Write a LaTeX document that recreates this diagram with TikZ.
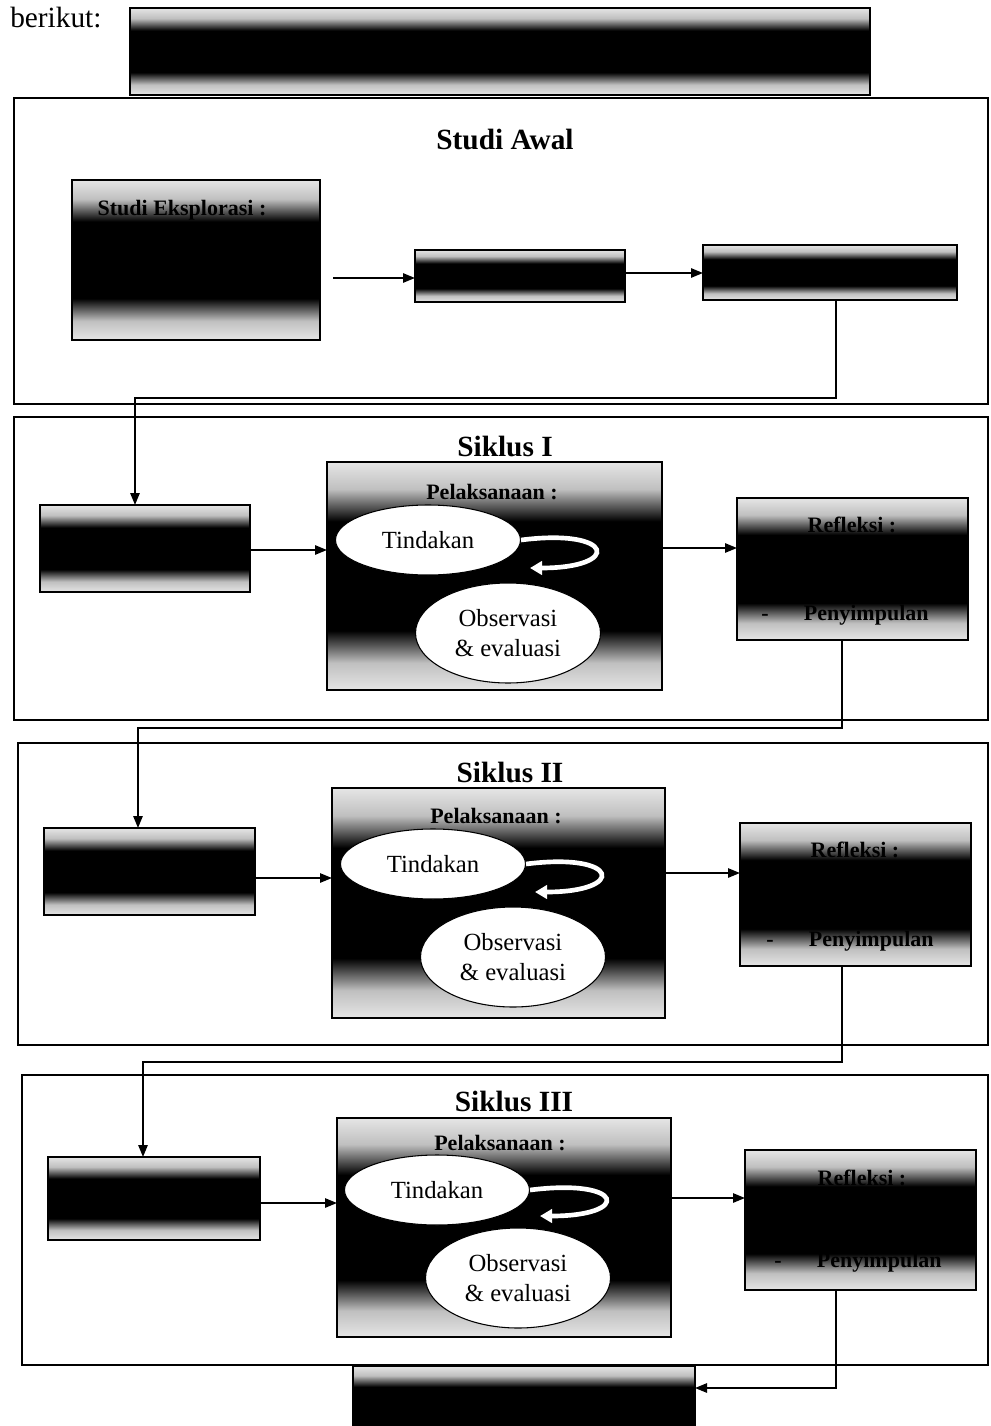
\documentclass[tikz,border=0pt]{standalone}
\usepackage{fontspec}
\setmainfont{Liberation Serif}
\usetikzlibrary{shapes.geometric,arrows.meta,calc}
\pgfdeclareverticalshading{band}{100bp}{color(0bp)=(gray!20); color(25bp)=(gray!20); color(31bp)=(gray!50); color(38bp)=(black); color(62bp)=(black); color(69bp)=(gray!50); color(75bp)=(gray!20); color(100bp)=(gray!20)}
\newcommand\dkbox[5]{\node[dbox,minimum width={(#4-#2)*0.75pt},minimum height={(#5-#3)*0.75pt}] (#1) at ({(#2+#4)/2},{(#3+#5)/2}) {};}
\newcommand\frmbox[5]{\node[frame,minimum width={(#4-#2)*0.75pt},minimum height={(#5-#3)*0.75pt}] (#1) at ({(#2+#4)/2},{(#3+#5)/2}) {};}
\begin{document}
\begin{tikzpicture}[x=0.75pt,y=-0.75pt,
  dbox/.style={draw,line width=1.5pt,shading=band,inner sep=0pt,outer sep=0pt},
  frame/.style={draw,line width=2pt,inner sep=0pt,outer sep=0pt},
  arr/.style={line width=1.3pt,-{Triangle[length=9pt,width=7pt]}},
  warr/.style={white,line width=3.5pt,-{Triangle[length=9pt,width=10pt]}},
  ell/.style={ellipse,draw,fill=white,line width=0.8pt,font=\fontsize{18.5}{22}\selectfont,align=center,inner sep=0pt},
  ttl/.style={font=\fontsize{22}{26}\bfseries\selectfont},
  lbl/.style={font=\fontsize{16.5}{19}\bfseries\selectfont},
  txt/.style={font=\fontsize{22}{26}\selectfont}]
\useasboundingbox (0,0) rectangle (990,1426);
\fill[white] (0,0) rectangle (990,1426);

\node[txt,anchor=base west,inner sep=0pt] (ber) at (10,28) {berikut:};
\dkbox{top}{130}{8}{870}{95}

% Studi Awal
\frmbox{f1}{14}{98}{988}{404}
\node[ttl] (t1) at (505,140) {Studi Awal};
\dkbox{s1}{72}{180}{320}{340}
\node[lbl] (s1t) at (182,210) {Studi Eksplorasi :};
\dkbox{s2}{415}{250}{625}{302}
\dkbox{s3}{703}{245}{957}{300}
\draw[arr] (333,278) -- (s2.west |- 0,278);
\draw[arr] (s2.east |- 0,273) -- (s3.west |- 0,273);

% Siklus I
\frmbox{f2}{14}{417}{988}{720}
\node[ttl] (t2) at (505,447) {Siklus I};
\dkbox{pa}{40}{505}{250}{592}
\dkbox{pb}{327}{462}{662}{690}
\node[lbl] (pbt) at (492,492) {Pelaksanaan :};
\node[ell,minimum width=138.75pt,minimum height=52.5pt] (ta) at (428,540) {Tindakan};
\node[ell,minimum width=138.75pt,minimum height=75pt] (oa) at (508,633) {Observasi\\ \& evaluasi};
\draw[warr] (ta.east) .. controls (615,528) and (622,568) .. (530,568);
\dkbox{pc}{737}{498}{968}{640}
\node[lbl] (pct) at (852,525) {Refleksi :};
\node[lbl] (pcb) at (845,615) {-\hspace{1.6em}Penyimpulan};
\draw[arr] (pa.east |- 0,550) -- (pb.west |- 0,550);
\draw[arr] (pb.east |- 0,548) -- (pc.west |- 0,548);
\draw[arr] (s3.south -| 836,0) -- (836,398) -- (135,398) -- (pa.north -| 135,0);

% Siklus II
\frmbox{f3}{18}{743}{988}{1045}
\node[ttl] (t3) at (510,772) {Siklus II};
\dkbox{pa2}{44}{828}{255}{915}
\dkbox{pb2}{332}{788}{665}{1018}
\node[lbl] (pbt2) at (496,816) {Pelaksanaan :};
\node[ell,minimum width=138.75pt,minimum height=52.5pt] (ta2) at (433,864) {Tindakan};
\node[ell,minimum width=138.75pt,minimum height=75pt] (oa2) at (513,957) {Observasi\\ \& evaluasi};
\draw[warr] (ta2.east) .. controls (620,852) and (627,892) .. (535,892);
\dkbox{pc2}{740}{823}{971}{966}
\node[lbl] (pct2) at (855,850) {Refleksi :};
\node[lbl] (pcb2) at (850,941) {-\hspace{1.6em}Penyimpulan};
\draw[arr] (pa2.east |- 0,878) -- (pb2.west |- 0,878);
\draw[arr] (pb2.east |- 0,873) -- (pc2.west |- 0,873);
\draw[arr] (pc.south -| 842,0) -- (842,728) -- (138,728) -- (pa2.north -| 138,0);

% Siklus III
\frmbox{f4}{22}{1075}{988}{1365}
\node[ttl] (t4) at (514,1101) {Siklus III};
\dkbox{pa3}{48}{1157}{260}{1240}
\dkbox{pb3}{337}{1118}{671}{1337}
\node[lbl] (pbt3) at (500,1143) {Pelaksanaan :};
\node[ell,minimum width=138.75pt,minimum height=52.5pt] (ta3) at (437,1190) {Tindakan};
\node[ell,minimum width=138.75pt,minimum height=75pt] (oa3) at (518,1278) {Observasi\\ \& evaluasi};
\draw[warr] (ta3.east) .. controls (625,1178) and (632,1216) .. (540,1216);
\dkbox{pc3}{745}{1150}{976}{1290}
\node[lbl] (pct3) at (862,1178) {Refleksi :};
\node[lbl] (pcb3) at (858,1262) {-\hspace{1.6em}Penyimpulan};
\draw[arr] (pa3.east |- 0,1203) -- (pb3.west |- 0,1203);
\draw[arr] (pb3.east |- 0,1198) -- (pc3.west |- 0,1198);
\draw[arr] (pc2.south -| 842,0) -- (842,1062) -- (143,1062) -- (pa3.north -| 143,0);

% final box
\dkbox{fin}{353}{1366}{695}{1446}
\draw[arr] (pc3.south -| 836,0) -- (836,1388) -- (fin.east |- 0,1388);
\end{tikzpicture}
\end{document}
